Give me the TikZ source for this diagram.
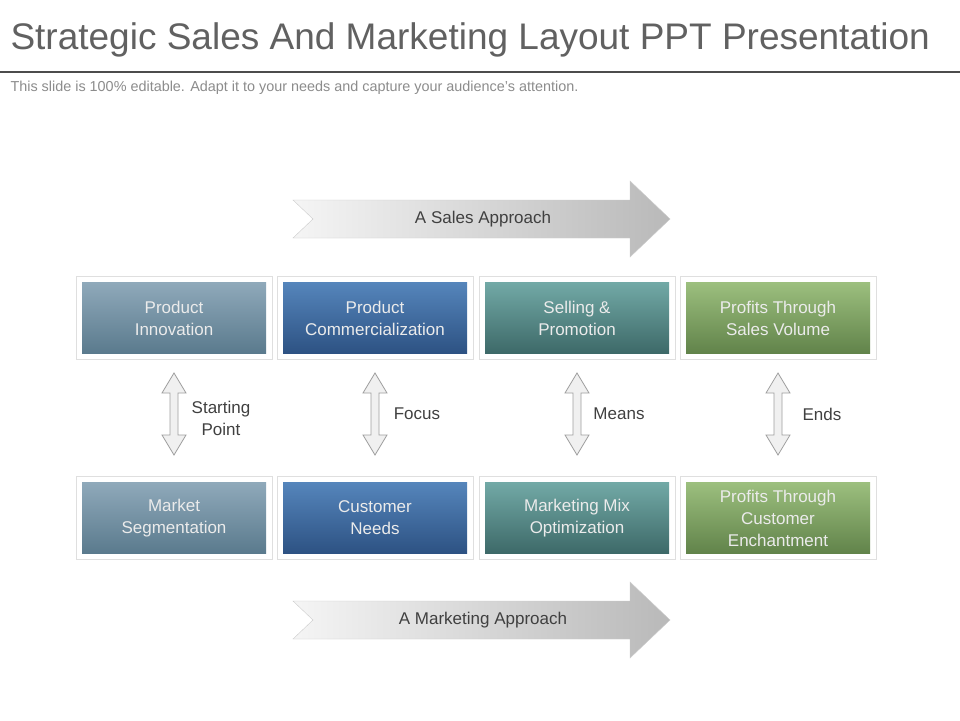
\documentclass[tikz,border=0pt]{standalone}
\usepackage{fontspec}
\setmainfont{Liberation Sans}
\begin{document}
\begin{tikzpicture}[x=1pt,y=-1pt,
  frame/.style={draw=gray!25,fill=white,line width=1pt,minimum width=196pt,minimum height=83pt},
  inner/.style={minimum width=184pt,minimum height=71pt,text=white!92!black,font=\fontsize{17}{22}\selectfont,align=center},
  bigarrow/.style={draw=gray!40,left color=gray!8,right color=gray!55},
  lbl/.style={text=black!75,font=\fontsize{17}{22}\selectfont,align=center},
  dbl/.style={draw=gray!75,fill=gray!12,line width=0.8pt}]
\useasboundingbox (0,0) rectangle (960,720);
\fill[white] (0,0) rectangle (960,720);
\node[anchor=west,text=black!62,font=\fontsize{37}{42}\selectfont] (title) at (7,40) {Strategic Sales And Marketing Layout PPT Presentation};
\draw[black!70,line width=1.5pt] (0,72) -- (960,72);
\node[anchor=west,text=black!45,font=\fontsize{14.4}{16}\selectfont] (sub) at (7,88) {This slide is 100\% editable. Adapt it to your needs and capture your audience's attention.};
\foreach \y/\t/\n in {219/A Sales Approach/sa, 620/A Marketing Approach/ma}{
  \draw[bigarrow] (293,\y-19) -- (630,\y-19) -- (630,\y-38) -- (670,\y) -- (630,\y+38) -- (630,\y+19) -- (293,\y+19) -- (313,\y) -- cycle;
  \node[lbl] (\n) at (483,\y) {\t};
}
\foreach \x/\c/\d/\ta/\tb/\n in {
  174/8FA9BA/5A7A8D/Product\\Innovation/Market\\Segmentation/a,
  375/5585BB/2D5283/Product\\Commercialization/Customer\\Needs/b,
  577/72A9A6/3D6968/Selling \&\\Promotion/Marketing Mix\\Optimization/c,
  778/9CBF7E/61834A/Profits Through\\Sales Volume/Profits Through\\Customer\\Enchantment/d}{
  \definecolor{ct}{HTML}{\c}\definecolor{cb}{HTML}{\d}
  \node[frame] (f1\n) at (\x,318) {};
  \node[inner,top color=ct,bottom color=cb] (t\n) at (\x,318) {\ta};
  \node[frame] (f2\n) at (\x,518) {};
  \node[inner,top color=ct,bottom color=cb] (b\n) at (\x,518) {\tb};
  \draw[dbl] (\x,373) -- (\x+12,393) -- (\x+4,393) -- (\x+4,435) -- (\x+12,435) -- (\x,455) -- (\x-12,435) -- (\x-4,435) -- (\x-4,393) -- (\x-12,393) -- cycle;
}
\node[lbl] (l1) at (221,418) {Starting\\Point};
\node[lbl] (l2) at (417,414) {Focus};
\node[lbl] (l3) at (619,414) {Means};
\node[lbl] (l4) at (822,414) {Ends};
\end{tikzpicture}
\end{document}
